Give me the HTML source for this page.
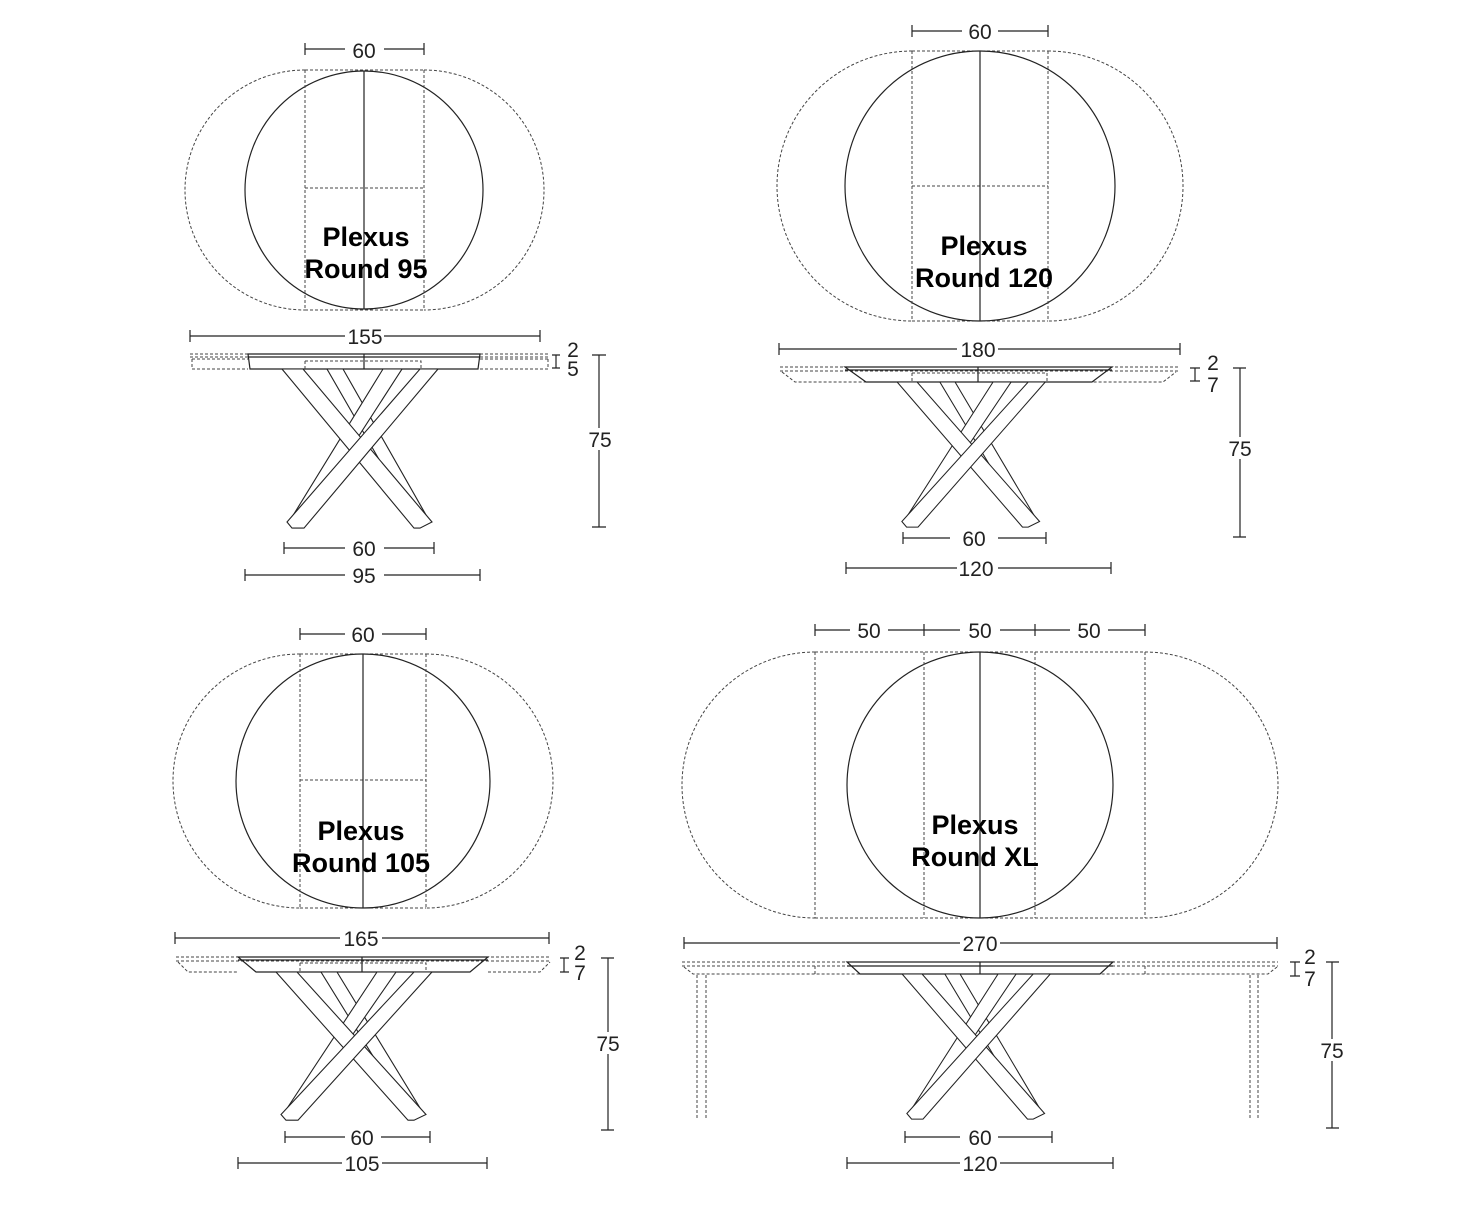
<!DOCTYPE html>
<html><head><meta charset="utf-8"><style>
html,body{margin:0;padding:0;background:#fff}
svg{display:block}
.l{stroke:#222;stroke-width:1.2;fill:none}
.d{stroke:#444;stroke-width:1;fill:none;stroke-dasharray:3 2}
.t{font-family:"Liberation Sans",sans-serif;font-size:21px;fill:#222;text-anchor:middle}
.b{font-family:"Liberation Sans",sans-serif;font-size:27px;font-weight:bold;fill:#000;text-anchor:middle}
</style></head><body>
<svg width="1466" height="1208" viewBox="0 0 1466 1208" xmlns="http://www.w3.org/2000/svg">
<defs>
<g id="base">
<polygon points="-37,0 -21,0 66,150 54,155" fill="#fff" stroke="#222" stroke-width="1.1"/>
<polygon points="38,0 19,0 -75,150 -64,155" fill="#fff" stroke="#222" stroke-width="1.1"/>
<polygon points="-82,0 -61,0 68,150 56,156 50,156" fill="#fff" stroke="#222" stroke-width="1.1"/>
<polygon points="74,0 56,0 -77,150 -72,156 -60,156" fill="#fff" stroke="#222" stroke-width="1.1"/>
</g>
</defs>

<!-- ============ T1 Round 95 ============ -->
<path d="M305 70A120 120 0 0 0 305 310M424 70A120 120 0 0 1 424 310M305 70H424M305 310H424" class="d"/>
<circle cx="364" cy="190" r="119" fill="#fff" class="l"/>
<path d="M305 70V310M424 70V310M305 188H424" class="d"/>
<path d="M364 71V309" class="l"/>
<path d="M305 49H345M384 49H424M305 43V55M424 43V55" class="l"/>
<text x="364" y="58" class="t">60</text>
<text x="366" y="246" class="b">Plexus</text>
<text x="366" y="278" class="b">Round 95</text>
<path d="M190 336H345M384 336H540M190 330V342M540 330V342" class="l"/>
<text x="365" y="344" class="t">155</text>
<path d="M190 354H550M190 357H550M192 359H248M480 359H548M192 369H248M480 369H548M192 359V369M548 359V369" class="d"/>
<path d="M248 354H480L478 369H250Z" class="l" fill="#fff"/>
<path d="M248 357H480M364 354V369" class="l"/>
<path d="M305 361H421V369M305 361V369" class="d"/>
<use href="#base" transform="translate(364,369) scale(1,1.02)"/>
<path d="M552 355H560M556 355V368M552 368H560M592 355H606M599 355V527M592 527H606" class="l"/>
<text x="573" y="357" class="t" font-size="19">2</text>
<text x="573" y="376" class="t" font-size="19">5</text>
<rect x="588" y="428" width="22" height="22" fill="#fff"/>
<text x="600" y="447" class="t">75</text>
<path d="M284 548H345M384 548H434M284 542V554M434 542V554M245 575H345M384 575H480M245 569V581M480 569V581" class="l"/>
<text x="364" y="556" class="t">60</text>
<text x="364" y="583" class="t">95</text>

<!-- ============ T2 Round 120 ============ -->
<path d="M912 51A135 135 0 0 0 912 321M1048 51A135 135 0 0 1 1048 321M912 51H1048M912 321H1048" class="d"/>
<circle cx="980" cy="186" r="135" fill="#fff" class="l"/>
<path d="M912 51V321M1048 51V321M912 186H1048" class="d"/>
<path d="M980 51V321" class="l"/>
<path d="M912 31H962M998 31H1048M912 25V37M1048 25V37" class="l"/>
<text x="980" y="39" class="t">60</text>
<text x="984" y="255" class="b">Plexus</text>
<text x="984" y="287" class="b">Round 120</text>
<path d="M779 349H957M998 349H1180M779 343V355M1180 343V355" class="l"/>
<text x="978" y="357" class="t">180</text>
<path d="M780 367H1180M780 371H1180M782 372L795 382H1163L1176 372" class="d"/>
<path d="M845 367H1112L1092 382H866Z" class="l" fill="#fff"/>
<path d="M845 370H1112M978 367V382" class="l"/>
<path d="M912 373H1047V382M912 373V382" class="d"/>
<use href="#base" transform="translate(975,382) scale(0.95,0.93)"/>
<path d="M1190 368H1200M1195 368V381M1190 381H1200M1233 368H1246M1240 368V537M1233 537H1246" class="l"/>
<text x="1213" y="370" class="t" font-size="19">2</text>
<text x="1213" y="392" class="t" font-size="19">7</text>
<rect x="1228" y="437" width="24" height="22" fill="#fff"/>
<text x="1240" y="456" class="t">75</text>
<path d="M903 538H950M998 538H1046M903 532V544M1046 532V544M846 568H957M998 568H1111M846 562V574M1111 562V574" class="l"/>
<text x="974" y="546" class="t">60</text>
<text x="976" y="576" class="t">120</text>

<!-- ============ T3 Round 105 ============ -->
<path d="M300 654A127 127 0 0 0 300 908M426 654A127 127 0 0 1 426 908M300 654H426M300 908H426" class="d"/>
<circle cx="363" cy="781" r="127" fill="#fff" class="l"/>
<path d="M300 654V908M426 654V908M300 780H426" class="d"/>
<path d="M363 654V908" class="l"/>
<path d="M300 634H345M382 634H426M300 628V640M426 628V640" class="l"/>
<text x="363" y="642" class="t">60</text>
<text x="361" y="840" class="b">Plexus</text>
<text x="361" y="872" class="b">Round 105</text>
<path d="M175 938H340M382 938H549M175 932V944M549 932V944" class="l"/>
<text x="361" y="946" class="t">165</text>
<path d="M176 957H551M176 961H551M178 962L188 972H238M488 972H540L550 962" class="d"/>
<path d="M238 957H488L470 972H256Z" class="l" fill="#fff"/>
<path d="M238 960H488M362 957V972" class="l"/>
<path d="M300 963H426V972M300 963V972" class="d"/>
<use href="#base" transform="translate(358,972) scale(1,0.95)"/>
<path d="M560 958H569M564 958V972M560 972H569M601 958H614M608 958V1130M601 1130H614" class="l"/>
<text x="580" y="960" class="t" font-size="19">2</text>
<text x="580" y="980" class="t" font-size="19">7</text>
<rect x="596" y="1032" width="24" height="22" fill="#fff"/>
<text x="608" y="1051" class="t">75</text>
<path d="M285 1137H345M381 1137H430M285 1131V1143M430 1131V1143M238 1163H342M382 1163H487M238 1157V1169M487 1157V1169" class="l"/>
<text x="362" y="1145" class="t">60</text>
<text x="362" y="1171" class="t">105</text>

<!-- ============ T4 Round XL ============ -->
<path d="M815 652A133 133 0 0 0 815 918M1145 652A133 133 0 0 1 1145 918M815 652H1145M815 918H1145" class="d" stroke-dasharray="1.5 1.5"/>
<circle cx="980" cy="785" r="133" fill="#fff" class="l"/>
<path d="M815 652V918M924 652V918M1035 652V918M1145 652V918" class="d" stroke-dasharray="1.5 1.5"/>
<path d="M980 652V918" class="l"/>
<path d="M815 630H850M888 630H924M924 630H960M1000 630H1035M1035 630H1070M1108 630H1145M815 624V636M924 624V636M1035 624V636M1145 624V636" class="l"/>
<text x="869" y="638" class="t">50</text>
<text x="980" y="638" class="t">50</text>
<text x="1089" y="638" class="t">50</text>
<text x="975" y="834" class="b">Plexus</text>
<text x="975" y="866" class="b">Round XL</text>
<path d="M684 943H960M1000 943H1277M684 937V949M1277 937V949" class="l"/>
<text x="980" y="951" class="t">270</text>
<path d="M682 962H1278M682 966H1278M684 967L693 974H1268L1277 967M697 975V1120M706 975V1120M1250 975V1120M1258 975V1120M815 966V974M1145 966V974" class="d" stroke-dasharray="1.5 1.5"/>
<path d="M847 962H1113L1100 974H860Z" class="l" fill="#fff"/>
<path d="M847 966H1113M980 962V974" class="l"/>
<use href="#base" transform="translate(980,974) scale(0.95,0.93)"/>
<path d="M1290 962H1300M1295 962V976M1290 976H1300M1326 962H1339M1332 962V1128M1326 1128H1339" class="l"/>
<text x="1310" y="964" class="t" font-size="19">2</text>
<text x="1310" y="986" class="t" font-size="19">7</text>
<rect x="1320" y="1039" width="24" height="22" fill="#fff"/>
<text x="1332" y="1058" class="t">75</text>
<path d="M905 1137H960M998 1137H1052M905 1131V1143M1052 1131V1143M847 1163H960M1000 1163H1113M847 1157V1169M1113 1157V1169" class="l"/>
<text x="980" y="1145" class="t">60</text>
<text x="980" y="1171" class="t">120</text>
</svg>
</body></html>
